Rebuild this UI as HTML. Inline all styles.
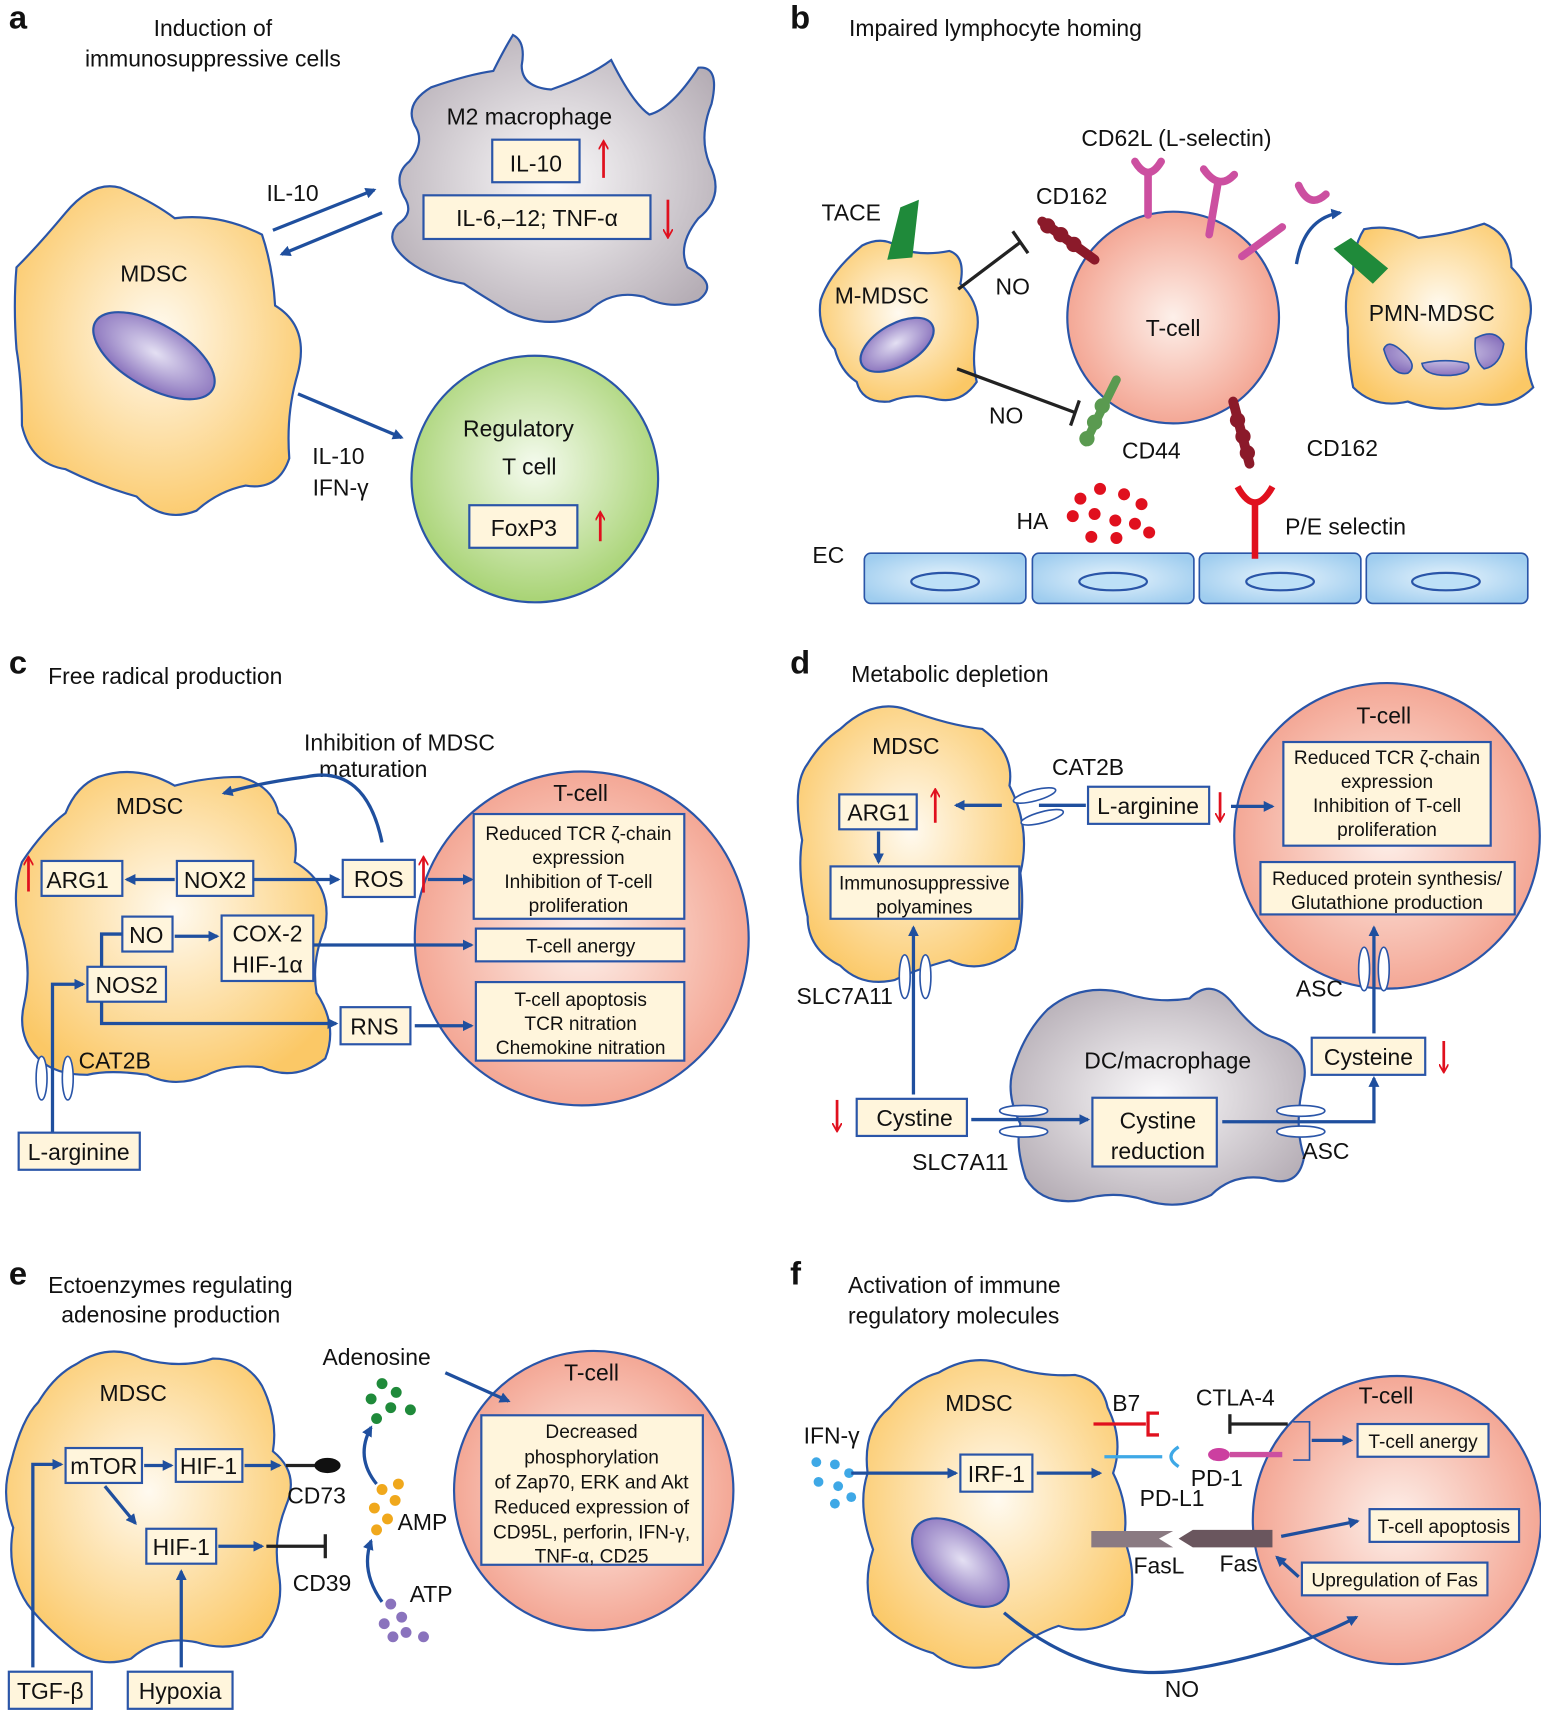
<!DOCTYPE html>
<html><head><meta charset="utf-8"><style>
html,body{margin:0;padding:0;background:#fff}
svg{display:block}
text{font-family:"Liberation Sans",sans-serif;fill:#111}
.l{font-size:21px}
.b{font-size:19px}
.s{font-size:17.5px}
.p{font-size:30px;font-weight:bold}
.bx{fill:#fff5dc;stroke:#2a55a8;stroke-width:2}
.ar{stroke:#1f4f9e;stroke-width:3;fill:none;marker-end:url(#ah)}
.ln{stroke:#1f4f9e;stroke-width:3;fill:none}
.cell{stroke:#2a55a8;stroke-width:2}
.red{stroke:#e0101e;stroke-width:2.5;fill:none;marker-end:url(#rh)}
.inh{stroke:#222;stroke-width:3;fill:none}
</style></head><body>
<svg width="1541" height="1711" viewBox="0 0 1412 1568" xmlns="http://www.w3.org/2000/svg">
<defs>
<marker id="ah" markerWidth="10" markerHeight="10" refX="8" refY="5" orient="auto" markerUnits="userSpaceOnUse" viewBox="0 0 10 10"><path d="M0,0 L10,5 L0,10 z" fill="#1f4f9e"/></marker>
<marker id="rh" markerWidth="9" markerHeight="9" refX="7" refY="4.5" orient="auto" markerUnits="userSpaceOnUse" viewBox="0 0 9 9"><path d="M0,0 L8,4.5 L0,9" fill="none" stroke="#e0101e" stroke-width="1.6"/></marker>
<radialGradient id="go" cx="50%" cy="45%" r="60%"><stop offset="0" stop-color="#fffaf0"/><stop offset="1" stop-color="#fbc866"/></radialGradient>
<radialGradient id="gp" cx="50%" cy="50%" r="55%"><stop offset="0" stop-color="#fdf0ea"/><stop offset="1" stop-color="#f3a08d"/></radialGradient>
<radialGradient id="gg" cx="50%" cy="45%" r="55%"><stop offset="0" stop-color="#f5fbef"/><stop offset="1" stop-color="#a8d374"/></radialGradient>
<radialGradient id="gy" cx="50%" cy="50%" r="60%"><stop offset="0" stop-color="#fbfafb"/><stop offset="1" stop-color="#b5adb5"/></radialGradient>
<radialGradient id="gn" cx="50%" cy="45%" r="55%"><stop offset="0" stop-color="#e4e0f3"/><stop offset="1" stop-color="#8a73bd"/></radialGradient>
<radialGradient id="gb" cx="50%" cy="50%" r="60%"><stop offset="0" stop-color="#e6f3fc"/><stop offset="1" stop-color="#9fcdef"/></radialGradient>
</defs>

<!-- ===== Panel a ===== -->
<text x="8" y="26" class="p">a</text>
<text x="195" y="33" class="l" text-anchor="middle">Induction of</text>
<text x="195" y="61" class="l" text-anchor="middle">immunosuppressive cells</text>
<path class="cell" fill="url(#go)" d="M60,195 Q85,165 110,172 Q140,185 160,200 Q200,195 240,215 Q250,245 252,280 Q285,300 272,345 Q262,380 265,420 Q255,450 225,445 Q200,450 180,468 Q150,480 125,455 Q90,445 60,430 Q28,425 20,390 Q20,350 15,320 Q12,280 15,245 Q35,225 60,195 Z"/>
<ellipse cx="141" cy="326" rx="62" ry="29" transform="rotate(30 141 326)" fill="url(#gn)" stroke="#2a55a8" stroke-width="2"/>
<text x="141" y="258" class="l" text-anchor="middle">MDSC</text>
<path class="cell" fill="url(#gy)" d="M470,32 Q482,38 478,60 Q478,80 505,82 Q540,70 560,55 Q580,95 595,105 Q615,100 640,62 Q660,60 652,95 Q640,125 650,150 Q665,180 640,200 Q620,225 630,245 Q660,260 640,275 Q615,285 590,272 Q560,265 540,285 Q505,305 465,285 Q440,270 425,260 Q395,255 375,240 Q350,220 365,205 Q380,195 370,180 Q360,160 375,148 Q390,130 380,115 Q370,95 395,80 Q430,68 452,65 Q462,45 470,32 Z"/>
<text x="485" y="114" class="l" text-anchor="middle">M2 macrophage</text>
<rect x="451" y="128" width="80" height="39" class="bx"/>
<text x="491" y="157" class="l" text-anchor="middle">IL-10</text>
<path class="red" d="M553,163 V130"/>
<rect x="388" y="179" width="208" height="40" class="bx"/>
<text x="492" y="207" class="l" text-anchor="middle">IL-6,–12; TNF-α</text>
<path class="red" d="M612,183 V217"/>
<text x="268" y="184" class="l" text-anchor="middle">IL-10</text>
<line x1="250" y1="211" x2="343" y2="174" class="ar"/>
<line x1="350" y1="195" x2="258" y2="233" class="ar"/>
<circle cx="490" cy="439" r="113" fill="url(#gg)" stroke="#2a55a8" stroke-width="2"/>
<text x="475" y="400" class="l" text-anchor="middle">Regulatory</text>
<text x="485" y="435" class="l" text-anchor="middle">T cell</text>
<rect x="430" y="463" width="99" height="39" class="bx"/>
<text x="480" y="491" class="l" text-anchor="middle">FoxP3</text>
<path class="red" d="M550,496 V470"/>
<line x1="273" y1="361" x2="368" y2="401" class="ar"/>
<text x="310" y="425" class="l" text-anchor="middle">IL-10</text>
<text x="312" y="454" class="l" text-anchor="middle">IFN-γ</text>

<!-- ===== Panel b ===== -->
<text x="724" y="26" class="p">b</text>
<text x="778" y="33" class="l">Impaired lymphocyte homing</text>
<path class="cell" fill="url(#go)" d="M790,225 Q810,215 825,228 Q845,235 870,230 Q885,235 880,260 Q900,280 895,305 Q890,330 895,350 Q880,372 855,365 Q835,360 815,368 Q790,370 785,350 Q770,340 765,320 Q748,300 752,275 Q760,250 790,225 Z"/>
<ellipse cx="822" cy="316" rx="37" ry="19" transform="rotate(-30 822 316)" fill="url(#gn)" stroke="#2a55a8" stroke-width="2"/>
<text x="808" y="278" class="l" text-anchor="middle">M-MDSC</text>
<path d="M813,238 L825,190 L842,183 L836,236 Z" fill="#1f8a3a"/>
<text x="780" y="202" class="l" text-anchor="middle">TACE</text>
<circle cx="1075" cy="291" r="97" fill="url(#gp)" stroke="#2a55a8" stroke-width="2"/>
<text x="1075" y="308" class="l" text-anchor="middle">T-cell</text>
<text x="1078" y="134" class="l" text-anchor="middle">CD62L (L-selectin)</text>
<text x="982" y="187" class="l" text-anchor="middle">CD162</text>
<g stroke="#8b1a2a" stroke-width="9" stroke-linecap="round">
<line x1="955" y1="203" x2="1003" y2="238"/>
<line x1="1130" y1="368" x2="1145" y2="425"/>
</g>
<g fill="#8b1a2a"><circle cx="960" cy="207" r="7"/><circle cx="972" cy="215" r="7"/><circle cx="984" cy="224" r="7"/><circle cx="1134" cy="385" r="7"/><circle cx="1139" cy="400" r="7"/><circle cx="1143" cy="415" r="7"/></g>
<g stroke="#cc4fa0" stroke-width="7" fill="none" stroke-linecap="round">
<line x1="1052" y1="197" x2="1052" y2="160"/><path d="M1040,148 Q1052,168 1064,148"/>
<line x1="1108" y1="215" x2="1116" y2="168"/><path d="M1103,155 Q1117,175 1131,160"/>
<line x1="1138" y1="235" x2="1175" y2="208"/>
<path d="M1190,170 Q1200,192 1215,178"/>
</g>
<path d="M1188,242 Q1195,200 1228,195" class="ar" stroke-width="2.5"/>
<path class="cell" fill="url(#go)" d="M1250,210 Q1275,205 1300,218 Q1330,215 1360,205 Q1385,215 1385,245 Q1410,270 1400,300 Q1395,330 1405,355 Q1385,375 1355,370 Q1320,380 1290,368 Q1260,375 1240,355 Q1235,330 1235,300 Q1230,270 1240,250 Q1240,225 1250,210 Z"/>
<path d="M1222,228 L1238,218 L1272,246 L1258,260 Z" fill="#1f8a3a"/>
<text x="1312" y="294" class="l" text-anchor="middle">PMN-MDSC</text>
<path d="M1268,320 Q1272,310 1285,322 Q1300,335 1290,342 Q1275,345 1268,320 Z M1303,333 Q1325,328 1345,333 Q1350,342 1330,344 Q1305,345 1303,333 Z M1352,310 Q1370,300 1378,315 Q1375,335 1360,338 Q1350,330 1352,310 Z" fill="url(#gn)" stroke="#2a55a8" stroke-width="1.5"/>
<line x1="878" y1="265" x2="935" y2="222" class="inh"/><line x1="928" y1="212" x2="942" y2="232" class="inh"/>
<text x="928" y="270" class="l" text-anchor="middle">NO</text>
<line x1="877" y1="338" x2="985" y2="378" class="inh"/><line x1="989" y1="367" x2="981" y2="390" class="inh"/>
<text x="922" y="388" class="l" text-anchor="middle">NO</text>
<g stroke="#5a9a50" stroke-width="8" stroke-linecap="round"><line x1="1023" y1="348" x2="995" y2="405"/></g>
<g fill="#5a9a50"><circle cx="1010" cy="372" r="7"/><circle cx="1003" cy="387" r="7"/><circle cx="996" cy="402" r="7"/></g>
<text x="1055" y="420" class="l" text-anchor="middle">CD44</text>
<text x="1230" y="418" class="l" text-anchor="middle">CD162</text>
<g fill="#e0101e"><circle cx="990" cy="457" r="5.5"/><circle cx="1008" cy="448" r="5.5"/><circle cx="1030" cy="453" r="5.5"/><circle cx="1046" cy="462" r="5.5"/><circle cx="983" cy="473" r="5.5"/><circle cx="1003" cy="471" r="5.5"/><circle cx="1022" cy="477" r="5.5"/><circle cx="1040" cy="480" r="5.5"/><circle cx="1053" cy="488" r="5.5"/><circle cx="1000" cy="492" r="5.5"/><circle cx="1023" cy="493" r="5.5"/></g>
<text x="946" y="485" class="l" text-anchor="middle">HA</text>
<text x="759" y="516" class="l" text-anchor="middle">EC</text>
<g stroke="#2a55a8" stroke-width="1.5" fill="url(#gb)">
<rect x="792" y="507" width="148" height="46" rx="6"/><rect x="946" y="507" width="148" height="46" rx="6"/><rect x="1099" y="507" width="148" height="46" rx="6"/><rect x="1252" y="507" width="148" height="46" rx="6"/>
</g>
<g stroke="#2a55a8" stroke-width="2" fill="#bde0f7"><ellipse cx="866" cy="533" rx="31" ry="8"/><ellipse cx="1020" cy="533" rx="31" ry="8"/><ellipse cx="1173" cy="533" rx="31" ry="8"/><ellipse cx="1325" cy="533" rx="31" ry="8"/></g>
<g stroke="#e0101e" stroke-width="6" fill="none"><line x1="1150" y1="512" x2="1150" y2="462"/><path d="M1134,446 Q1150,475 1166,446"/></g>
<text x="1233" y="490" class="l" text-anchor="middle">P/E selectin</text>

<!-- ===== Panel c ===== -->
<text x="8" y="617" class="p">c</text>
<text x="44" y="627" class="l">Free radical production</text>
<text x="366" y="688" class="l" text-anchor="middle">Inhibition of MDSC</text>
<text x="342" y="712" class="l" text-anchor="middle">maturation</text>
<path class="cell" fill="url(#go)" d="M90,712 Q125,700 160,720 Q190,712 220,712 Q250,720 255,745 Q275,760 270,790 Q305,810 298,850 Q285,880 290,910 Q310,940 298,970 Q270,992 240,978 Q210,975 190,985 Q160,998 135,985 Q100,980 80,985 Q50,985 35,970 Q15,950 22,920 Q30,885 18,850 Q10,820 20,790 Q40,760 60,745 Q70,720 90,712 Z"/>
<text x="137" y="746" class="l" text-anchor="middle">MDSC</text>
<circle cx="533" cy="860" r="153" fill="url(#gp)" stroke="#2a55a8" stroke-width="2"/>
<text x="532" y="734" class="l" text-anchor="middle">T-cell</text>
<rect x="434" y="746" width="193" height="96" class="bx"/>
<text x="530" y="770" class="s" text-anchor="middle">Reduced TCR ζ-chain</text>
<text x="530" y="792" class="s" text-anchor="middle">expression</text>
<text x="530" y="814" class="s" text-anchor="middle">Inhibition of T-cell</text>
<text x="530" y="836" class="s" text-anchor="middle">proliferation</text>
<rect x="436" y="851" width="191" height="30" class="bx"/>
<text x="532" y="873" class="s" text-anchor="middle">T-cell anergy</text>
<rect x="436" y="900" width="191" height="72" class="bx"/>
<text x="532" y="922" class="s" text-anchor="middle">T-cell apoptosis</text>
<text x="532" y="944" class="s" text-anchor="middle">TCR nitration</text>
<text x="532" y="966" class="s" text-anchor="middle">Chemokine nitration</text>
<rect x="38" y="789" width="74" height="32" class="bx"/><text x="71" y="814" class="l" text-anchor="middle">ARG1</text>
<path class="red" d="M26,817 V786"/>
<rect x="162" y="789" width="70" height="32" class="bx"/><text x="197" y="814" class="l" text-anchor="middle">NOX2</text>
<rect x="314" y="788" width="66" height="34" class="bx"/><text x="347" y="813" class="l" text-anchor="middle">ROS</text>
<path class="red" d="M388,818 V786"/>
<rect x="112" y="840" width="46" height="32" class="bx"/><text x="134" y="864" class="l" text-anchor="middle">NO</text>
<rect x="203" y="839" width="84" height="60" class="bx"/><text x="245" y="863" class="l" text-anchor="middle">COX-2</text><text x="245" y="891" class="l" text-anchor="middle">HIF-1α</text>
<rect x="80" y="886" width="72" height="32" class="bx"/><text x="116" y="910" class="l" text-anchor="middle">NOS2</text>
<rect x="312" y="923" width="64" height="34" class="bx"/><text x="343" y="948" class="l" text-anchor="middle">RNS</text>
<line x1="160" y1="806" x2="116" y2="806" class="ar"/>
<line x1="232" y1="806" x2="310" y2="806" class="ar"/>
<line x1="392" y1="806" x2="432" y2="806" class="ar"/>
<line x1="160" y1="858" x2="199" y2="858" class="ar"/>
<line x1="287" y1="866" x2="432" y2="866" class="ar"/>
<line x1="380" y1="940" x2="432" y2="940" class="ar"/>
<path class="ln" d="M93,886 V856 H112"/>
<path class="ar" d="M93,918 V938 H308"/>
<path class="ar" d="M48,1040 V902 H76"/>
<path class="ar" d="M350,772 Q335,700 280,712 Q235,718 205,727"/>
<g stroke="#2a55a8" stroke-width="1.5" fill="#fff"><ellipse cx="38" cy="988" rx="5" ry="20"/><ellipse cx="62" cy="988" rx="5" ry="20"/></g>
<text x="105" y="979" class="l" text-anchor="middle">CAT2B</text>
<rect x="17" y="1038" width="111" height="34" class="bx"/><text x="72" y="1063" class="l" text-anchor="middle">L-arginine</text>

<!-- ===== Panel d ===== -->
<text x="724" y="617" class="p">d</text>
<text x="780" y="625" class="l">Metabolic depletion</text>
<path class="cell" fill="url(#go)" d="M770,668 Q800,640 830,650 Q870,665 900,668 Q930,690 925,720 Q945,760 935,800 Q940,840 930,870 Q900,895 870,880 Q840,888 820,898 Q790,905 770,885 Q740,870 740,840 Q730,800 735,770 Q725,720 740,700 Q752,680 770,668 Z"/>
<text x="830" y="691" class="l" text-anchor="middle">MDSC</text>
<rect x="769" y="728" width="71" height="32" class="bx"/><text x="805" y="752" class="l" text-anchor="middle">ARG1</text>
<path class="red" d="M857,754 V724"/>
<rect x="761" y="794" width="173" height="48" class="bx"/>
<text x="847" y="815" class="s" text-anchor="middle">Immunosuppressive</text>
<text x="847" y="837" class="s" text-anchor="middle">polyamines</text>
<line x1="805" y1="762" x2="805" y2="790" class="ar"/>
<line x1="918" y1="738" x2="876" y2="738" class="ar"/>
<line x1="995" y1="738" x2="952" y2="738" class="ln"/>
<g stroke="#2a55a8" stroke-width="1.5" fill="#fff"><ellipse cx="948" cy="729" rx="20" ry="5" transform="rotate(-15 948 729)"/><ellipse cx="955" cy="749" rx="20" ry="5" transform="rotate(-15 955 749)"/></g>
<text x="997" y="710" class="l" text-anchor="middle">CAT2B</text>
<rect x="997" y="721" width="111" height="34" class="bx"/><text x="1052" y="746" class="l" text-anchor="middle">L-arginine</text>
<path class="red" d="M1118,726 V752"/>
<circle cx="1271" cy="766" r="140" fill="url(#gp)" stroke="#2a55a8" stroke-width="2"/>
<line x1="1128" y1="739" x2="1166" y2="739" class="ar"/>
<text x="1268" y="663" class="l" text-anchor="middle">T-cell</text>
<rect x="1176" y="680" width="190" height="95" class="bx"/>
<text x="1271" y="700" class="s" text-anchor="middle">Reduced TCR ζ-chain</text>
<text x="1271" y="722" class="s" text-anchor="middle">expression</text>
<text x="1271" y="744" class="s" text-anchor="middle">Inhibition of T-cell</text>
<text x="1271" y="766" class="s" text-anchor="middle">proliferation</text>
<rect x="1155" y="790" width="233" height="48" class="bx"/>
<text x="1271" y="811" class="s" text-anchor="middle">Reduced protein synthesis/</text>
<text x="1271" y="833" class="s" text-anchor="middle">Glutathione production</text>
<path class="cell" fill="url(#gy)" d="M960,925 Q990,900 1030,910 Q1060,920 1090,915 Q1110,895 1130,920 Q1150,945 1165,950 Q1200,960 1195,990 Q1185,1030 1195,1060 Q1190,1090 1160,1080 Q1130,1075 1110,1095 Q1080,1110 1050,1100 Q1020,1090 990,1100 Q955,1105 940,1080 Q930,1050 935,1030 Q920,1000 930,975 Q940,945 960,925 Z"/>
<text x="1070" y="979" class="l" text-anchor="middle">DC/macrophage</text>
<rect x="1001" y="1006" width="114" height="63" class="bx"/>
<text x="1061" y="1034" class="l" text-anchor="middle">Cystine</text>
<text x="1061" y="1062" class="l" text-anchor="middle">reduction</text>
<rect x="785" y="1007" width="101" height="34" class="bx"/><text x="838" y="1032" class="l" text-anchor="middle">Cystine</text>
<path class="red" d="M767,1008 V1036"/>
<line x1="890" y1="1026" x2="997" y2="1026" class="ar"/>
<g stroke="#2a55a8" stroke-width="1.5" fill="#fff"><ellipse cx="938" cy="1018" rx="22" ry="5"/><ellipse cx="938" cy="1037" rx="22" ry="5"/><ellipse cx="1192" cy="1018" rx="22" ry="5"/><ellipse cx="1192" cy="1037" rx="22" ry="5"/></g>
<text x="880" y="1072" class="l" text-anchor="middle">SLC7A11</text>
<line x1="837" y1="1003" x2="837" y2="850" class="ar"/>
<g stroke="#2a55a8" stroke-width="1.5" fill="#fff"><ellipse cx="829" cy="895" rx="5" ry="20"/><ellipse cx="848" cy="895" rx="5" ry="20"/><ellipse cx="1250" cy="888" rx="5" ry="20"/><ellipse cx="1268" cy="888" rx="5" ry="20"/></g>
<text x="774" y="920" class="l" text-anchor="middle">SLC7A11</text>
<path class="ar" d="M1120,1028 H1259 V988"/>
<text x="1215" y="1062" class="l" text-anchor="middle">ASC</text>
<rect x="1202" y="951" width="104" height="34" class="bx"/><text x="1254" y="976" class="l" text-anchor="middle">Cysteine</text>
<path class="red" d="M1323,954 V982"/>
<line x1="1259" y1="947" x2="1259" y2="850" class="ar"/>
<text x="1209" y="913" class="l" text-anchor="middle">ASC</text>

<!-- ===== Panel e ===== -->
<text x="8" y="1177" class="p">e</text>
<text x="44" y="1185" class="l">Ectoenzymes regulating</text>
<text x="56" y="1212" class="l">adenosine production</text>
<path class="cell" fill="url(#go)" d="M70,1250 Q100,1230 130,1245 Q165,1255 195,1245 Q225,1245 240,1270 Q255,1300 250,1330 Q275,1350 262,1380 Q250,1410 255,1440 Q262,1475 240,1500 Q210,1515 180,1505 Q145,1498 120,1520 Q90,1530 65,1510 Q40,1490 25,1470 Q5,1440 12,1400 Q0,1370 10,1340 Q20,1300 35,1285 Q50,1260 70,1250 Z"/>
<text x="122" y="1284" class="l" text-anchor="middle">MDSC</text>
<rect x="60" y="1327" width="70" height="32" class="bx"/><text x="95" y="1351" class="l" text-anchor="middle">mTOR</text>
<rect x="161" y="1328" width="61" height="30" class="bx"/><text x="191" y="1351" class="l" text-anchor="middle">HIF-1</text>
<rect x="134" y="1401" width="64" height="32" class="bx"/><text x="166" y="1425" class="l" text-anchor="middle">HIF-1</text>
<line x1="132" y1="1343" x2="157" y2="1343" class="ar"/>
<line x1="224" y1="1343" x2="256" y2="1343" class="ar"/>
<line x1="96" y1="1362" x2="124" y2="1396" class="ar"/>
<line x1="200" y1="1417" x2="240" y2="1417" class="ar"/>
<line x1="244" y1="1417" x2="298" y2="1417" class="inh"/><line x1="298" y1="1406" x2="298" y2="1428" class="inh"/>
<line x1="262" y1="1343" x2="292" y2="1343" stroke="#222" stroke-width="3"/>
<ellipse cx="300" cy="1343" rx="12" ry="7" fill="#111"/>
<text x="290" y="1378" class="l" text-anchor="middle">CD73</text>
<text x="295" y="1458" class="l" text-anchor="middle">CD39</text>
<path class="ar" d="M30,1528 V1342 H56"/>
<line x1="166" y1="1528" x2="166" y2="1440" class="ar"/>
<rect x="8" y="1532" width="76" height="34" class="bx"/><text x="46" y="1557" class="l" text-anchor="middle">TGF-β</text>
<rect x="117" y="1532" width="96" height="34" class="bx"/><text x="165" y="1557" class="l" text-anchor="middle">Hypoxia</text>
<text x="345" y="1251" class="l" text-anchor="middle">Adenosine</text>
<g fill="#1f8a3a"><circle cx="350" cy="1268" r="5"/><circle cx="340" cy="1282" r="5"/><circle cx="358" cy="1290" r="5"/><circle cx="376" cy="1292" r="5"/><circle cx="345" cy="1300" r="5"/><circle cx="363" cy="1276" r="5"/></g>
<path class="ar" d="M345,1360 Q325,1335 340,1308"/>
<g fill="#f0a81c"><circle cx="350" cy="1365" r="5"/><circle cx="362" cy="1375" r="5"/><circle cx="343" cy="1382" r="5"/><circle cx="355" cy="1392" r="5"/><circle cx="345" cy="1402" r="5"/><circle cx="365" cy="1360" r="5"/></g>
<text x="387" y="1402" class="l" text-anchor="middle">AMP</text>
<path class="ar" d="M350,1468 Q330,1440 340,1412"/>
<g fill="#8a73bd"><circle cx="358" cy="1470" r="5"/><circle cx="368" cy="1482" r="5"/><circle cx="352" cy="1488" r="5"/><circle cx="372" cy="1496" r="5"/><circle cx="388" cy="1500" r="5"/><circle cx="360" cy="1500" r="5"/></g>
<text x="395" y="1468" class="l" text-anchor="middle">ATP</text>
<circle cx="544" cy="1366" r="128" fill="url(#gp)" stroke="#2a55a8" stroke-width="2"/>
<line x1="408" y1="1258" x2="466" y2="1284" class="ar"/>
<text x="542" y="1265" class="l" text-anchor="middle">T-cell</text>
<rect x="441" y="1297" width="203" height="137" class="bx"/>
<text x="542" y="1318" class="s" text-anchor="middle">Decreased</text>
<text x="542" y="1341" class="s" text-anchor="middle">phosphorylation</text>
<text x="542" y="1364" class="s" text-anchor="middle">of Zap70, ERK and Akt</text>
<text x="542" y="1387" class="s" text-anchor="middle">Reduced expression of</text>
<text x="542" y="1410" class="s" text-anchor="middle">CD95L, perforin, IFN-γ,</text>
<text x="542" y="1432" class="s" text-anchor="middle">TNF-α, CD25</text>

<!-- ===== Panel f ===== -->
<text x="724" y="1177" class="p">f</text>
<text x="777" y="1185" class="l">Activation of immune</text>
<text x="777" y="1213" class="l">regulatory molecules</text>
<path class="cell" fill="url(#go)" d="M860,1258 Q890,1240 920,1250 Q950,1262 985,1260 Q1010,1265 1015,1290 Q1030,1320 1020,1350 Q1035,1380 1030,1410 Q1045,1450 1030,1480 Q1000,1500 970,1490 Q940,1500 915,1525 Q880,1535 855,1515 Q820,1505 800,1480 Q790,1450 800,1420 Q785,1380 795,1350 Q790,1310 815,1290 Q835,1265 860,1258 Z"/>
<ellipse cx="880" cy="1432" rx="52" ry="30" transform="rotate(40 880 1432)" fill="url(#gn)" stroke="#2a55a8" stroke-width="2"/>
<text x="897" y="1293" class="l" text-anchor="middle">MDSC</text>
<text x="762" y="1323" class="l" text-anchor="middle">IFN-γ</text>
<g fill="#3ea8e6"><circle cx="748" cy="1340" r="4.5"/><circle cx="765" cy="1342" r="4.5"/><circle cx="778" cy="1350" r="4.5"/><circle cx="750" cy="1358" r="4.5"/><circle cx="768" cy="1362" r="4.5"/><circle cx="780" cy="1372" r="4.5"/><circle cx="765" cy="1378" r="4.5"/></g>
<line x1="780" y1="1350" x2="876" y2="1350" class="ar"/>
<rect x="880" y="1333" width="66" height="34" class="bx"/><text x="913" y="1358" class="l" text-anchor="middle">IRF-1</text>
<line x1="950" y1="1350" x2="1008" y2="1350" class="ar"/>
<text x="1032" y="1293" class="l" text-anchor="middle">B7</text>
<g stroke="#e0101e" stroke-width="3" fill="none"><line x1="1002" y1="1305" x2="1050" y2="1305"/><path d="M1062,1295 H1052 V1315 H1062"/></g>
<g stroke="#3ea8e6" stroke-width="3" fill="none"><line x1="1012" y1="1335" x2="1065" y2="1335"/><path d="M1080,1326 Q1066,1335 1080,1344"/></g>
<text x="1074" y="1380" class="l" text-anchor="middle">PD-L1</text>
<circle cx="1280" cy="1393" r="132" fill="url(#gp)" stroke="#2a55a8" stroke-width="2"/>
<text x="1132" y="1288" class="l" text-anchor="middle">CTLA-4</text>
<line x1="1127" y1="1305" x2="1180" y2="1305" class="inh"/><line x1="1127" y1="1296" x2="1127" y2="1314" class="inh"/>
<ellipse cx="1117" cy="1333" rx="10" ry="6" fill="#cc3fa0"/>
<line x1="1127" y1="1333" x2="1175" y2="1333" stroke="#cc4fa0" stroke-width="5"/>
<text x="1115" y="1362" class="l" text-anchor="middle">PD-1</text>
<path d="M1185,1303 H1200 V1338 H1185" stroke="#2a55a8" stroke-width="1.5" fill="none"/>
<path d="M1000,1403 H1075 L1062,1410 L1075,1418 H1000 Z" fill="#8a7a82"/>
<path d="M1080,1410 L1093,1402 H1166 V1418 H1093 Z" fill="#6a565e"/>
<text x="1062" y="1442" class="l" text-anchor="middle">FasL</text>
<text x="1135" y="1440" class="l" text-anchor="middle">Fas</text>
<text x="1270" y="1286" class="l" text-anchor="middle">T-cell</text>
<line x1="1202" y1="1320" x2="1238" y2="1320" class="ar"/>
<rect x="1244" y="1305" width="120" height="30" class="bx"/><text x="1304" y="1327" class="s" text-anchor="middle">T-cell anergy</text>
<line x1="1174" y1="1408" x2="1244" y2="1394" class="ar"/>
<rect x="1255" y="1383" width="137" height="30" class="bx"/><text x="1323" y="1405" class="s" text-anchor="middle">T-cell apoptosis</text>
<line x1="1190" y1="1445" x2="1170" y2="1427" class="ar"/>
<rect x="1193" y="1432" width="170" height="30" class="bx"/><text x="1278" y="1454" class="s" text-anchor="middle">Upregulation of Fas</text>
<path class="ar" d="M920,1478 Q1000,1545 1090,1530 Q1180,1515 1243,1482"/>
<text x="1083" y="1555" class="l" text-anchor="middle">NO</text>
</svg>
</body></html>
